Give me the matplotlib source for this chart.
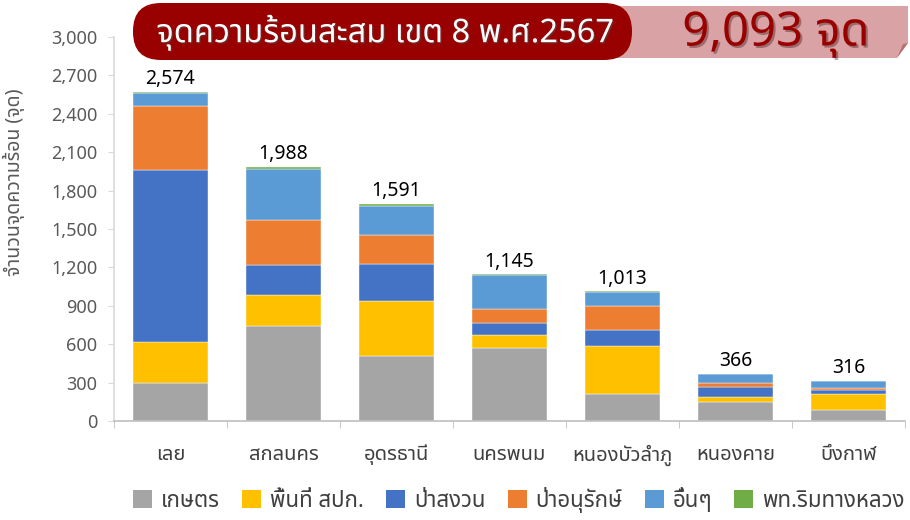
import matplotlib
matplotlib.use('Agg')
import matplotlib.pyplot as plt
import numpy as np
from matplotlib.patches import FancyBboxPatch, Polygon, Patch
from matplotlib.transforms import IdentityTransform
import matplotlib.patheffects as pe

FONT = ['Noto Sans Thai', 'DejaVu Sans']
plt.rcParams['font.family'] = FONT

categories = ['เลย', 'สกลนคร', 'อุดรธานี', 'นครพนม', 'หนองบัวลำภู', 'หนองคาย', 'บึงกาฬ']
series_names = ['เกษตร', 'พื้นที่ สปก.', 'ป่าสงวน', 'ป่าอนุรักษ์', 'อื่นๆ', 'พท.ริมทางหลวง']
agri     = [297, 745, 506, 572, 212, 147, 84]
alro     = [322, 240, 428, 96, 375, 39, 128]
reserve  = [1340, 230, 291, 99, 122, 78, 34]
conserve = [505, 352, 232, 109, 191, 29, 8]
others   = [98, 401, 222, 261, 108, 71, 56]
roadside = [12, 20, 15, 8, 5, 2, 6]
totals_labels = ['2,574', '1,988', '1,591', '1,145', '1,013', '366', '316']
title_text = 'จุดความร้อนสะสม เขต 8 พ.ศ.2567'
total_text = '9,093 จุด'
y_ticks = [0, 300, 600, 900, 1200, 1500, 1800, 2100, 2400, 2700, 3000]

colors = ['#A5A5A5', '#FFC000', '#4472C4', '#ED7D31', '#5B9BD5', '#70AD47']
series = [agri, alro, reserve, conserve, others, roadside]

W, H = 910, 520
fig = plt.figure(figsize=(W / 100, H / 100), dpi=100)
ax = fig.add_axes([114 / W, 1 - 421 / H, (905 - 114) / W, (421 - 37) / H])

x = np.arange(len(categories))
bottom = np.zeros(len(categories))
for vals, col, name in zip(series, colors, series_names):
    ax.bar(x, vals, 0.66, bottom=bottom, color=col, edgecolor='white', linewidth=0.3, label=name)
    bottom += np.array(vals)

for xi, top, lab in zip(x, bottom, totals_labels):
    ax.annotate(lab, (xi, top), xytext=(0, 2), textcoords='offset points',
                ha='center', va='bottom', fontsize=14, color='black')

ax.set_xlim(-0.5, len(categories) - 0.5)
ax.set_ylim(0, 3000)
ax.set_yticks(y_ticks)
ax.set_yticklabels([f'{v:,}' for v in y_ticks])
ax.set_xticks(x)
ax.set_xticklabels(categories)
ax.set_xticks(np.arange(len(categories) + 1) - 0.5, minor=True)
ax.tick_params(axis='x', which='major', length=0, pad=17, labelsize=14.5, labelcolor='#404040')
ax.tick_params(axis='x', which='minor', length=5, color='#BFBFBF', direction='out')
ax.tick_params(axis='y', length=4, color='#D9D9D9', labelsize=13, labelcolor='#595959', pad=8)
for s in ['top', 'right']:
    ax.spines[s].set_visible(False)
ax.spines['left'].set_color('#D9D9D9')
ax.spines['bottom'].set_color('#BFBFBF')
ax.spines['left'].set_linewidth(1.2)
ax.spines['bottom'].set_linewidth(1.2)

fig.text(14 / W, 1 - 182 / H, 'จำนวนจุดความร้อน (จุด)', rotation=90, ha='center', va='center',
         fontsize=14, color='#595959')

# header graphics (pixel coordinates, origin bottom-left)
idt = IdentityTransform()
pink = Polygon([(600, H - 6), (908, H - 6), (908, H - 43), (897, H - 58), (600, H - 58)],
               closed=True, transform=idt, facecolor='#D9A3A5', edgecolor='none', zorder=1)
fig.patches.append(pink)
fold = Polygon([(897, H - 58), (908, H - 43), (903, H - 44)], closed=True, transform=idt,
               facecolor='#B87070', edgecolor='none', zorder=1)
fig.patches.append(fold)
box = FancyBboxPatch((133 + 28, H - 60 + 28), 632 - 133 - 56, 57 - 56,
                     boxstyle='round,pad=28,rounding_size=28', transform=idt,
                     facecolor='#990000', edgecolor='none', zorder=2)
fig.patches.append(box)

fig.text(385 / W, 1 - 33 / H, title_text, ha='center', va='center', fontsize=23.5,
         fontweight='bold', color='white', zorder=3,
         path_effects=[pe.withSimplePatchShadow(offset=(1, -1), alpha=0.5)])
fig.text(776 / W, 1 - 34 / H, total_text, ha='center', va='center', fontsize=34,
         fontweight='bold', color='#990000', zorder=3,
         path_effects=[pe.withSimplePatchShadow(offset=(1.5, -1.5), alpha=0.35)])

handles = [Patch(facecolor=c, edgecolor='none') for c in colors]
fig.legend(handles, series_names, loc='center', bbox_to_anchor=(519 / W, 1 - 500 / H),
           ncol=6, frameon=False, fontsize=16, handlelength=0.85, handleheight=0.85,
           handletextpad=0.4, columnspacing=1.0, labelcolor='#404040')

fig.savefig('out.png', dpi=100)
